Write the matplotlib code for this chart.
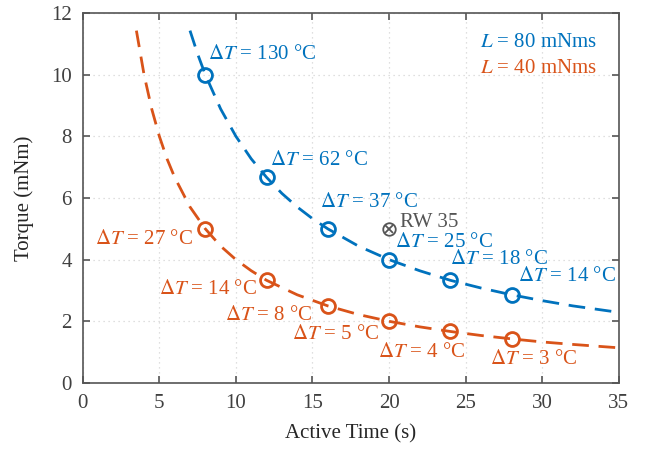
import matplotlib
matplotlib.use("Agg")
import matplotlib.pyplot as plt

BLUE = "#0072BD"
ORANGE = "#D95319"
GRAY = "#555555"

# dashed trend curves
t_80 = [7.0, 7.5, 8, 9, 10, 11, 12, 13, 14, 15, 16, 18, 20, 22, 24, 26, 28, 30, 32, 35]
tq_80 = [11.43, 10.67, 10.0, 8.89, 8.0, 7.27, 6.67, 6.15, 5.71, 5.33, 5.0, 4.44, 4.0,
         3.64, 3.33, 3.08, 2.86, 2.67, 2.5, 2.29]
t_40 = [3.5, 4, 4.5, 5, 5.5, 6, 7, 8, 9, 10, 11, 12, 14, 16, 18, 20, 22, 24, 26, 28, 30, 32, 35]
tq_40 = [11.43, 10.0, 8.89, 8.0, 7.27, 6.67, 5.71, 5.0, 4.44, 4.0, 3.64, 3.33, 2.86, 2.5,
         2.22, 2.0, 1.82, 1.67, 1.54, 1.43, 1.33, 1.25, 1.14]

# design points
pt_time = [8, 12, 16, 20, 24, 28]
pt_80 = [10.0, 6.67, 5.0, 4.0, 3.33, 2.86]
pt_40 = [5.0, 3.33, 2.5, 2.0, 1.67, 1.43]
dT_80 = [130, 62, 37, 25, 18, 14]
dT_40 = [27, 14, 8, 5, 4, 3]

# label anchor positions (data coords)
lab_80 = [(8.2, 10.67), (12.2, 7.23), (15.5, 5.84), (20.4, 4.57), (24.0, 3.99), (28.4, 3.44)]
lab_40 = [(7.2, 4.64), (11.4, 3.02), (15.0, 2.2), (19.4, 1.56), (19.3, 1.0), (26.6, 0.75)]
ha_40 = ["right", "right", "right", "right", "left", "left"]

rw_time, rw_torque = 20, 5.0

plt.rcParams.update({
    "font.family": "Liberation Serif",
    "mathtext.fontset": "stix",
    "font.size": 15,
})

fig = plt.figure(figsize=(6.52, 4.5), dpi=100)
ax = fig.add_axes([0.127, 0.149, 0.822, 0.822])

ax.plot(t_80, tq_80, color=BLUE, linestyle=(0, (6, 3.5)), linewidth=2.0)
ax.plot(t_40, tq_40, color=ORANGE, linestyle=(0, (6, 3.5)), linewidth=2.0)
ax.plot(pt_time, pt_80, "o", color=BLUE, mfc="none", mew=2.0, ms=10)
ax.plot(pt_time, pt_40, "o", color=ORANGE, mfc="none", mew=2.0, ms=10)

for (x, y), d in zip(lab_80, dT_80):
    ax.text(x, y, rf"$\Delta T$ = {d} °C", color=BLUE, ha="left", va="center")
for (x, y), d, ha in zip(lab_40, dT_40, ha_40):
    ax.text(x, y, rf"$\Delta T$ = {d} °C", color=ORANGE, ha=ha, va="center")

ax.plot(rw_time, rw_torque, marker="o", color=GRAY, mfc="none", ms=9, mew=1.3)
ax.plot(rw_time, rw_torque, marker="x", color=GRAY, ms=6, mew=1.3)
ax.text(20.7, 5.22, "RW 35", color=GRAY, ha="left", va="center")

ax.text(33.6, 11.06, r"$L$ = 80 mNms", color=BLUE, ha="right", va="center")
ax.text(33.6, 10.2, r"$L$ = 40 mNms", color=ORANGE, ha="right", va="center")

ax.set_xlim(0, 35)
ax.set_ylim(0, 12)
ax.set_xticks(range(0, 36, 5))
ax.set_yticks(range(0, 13, 2))
ax.set_xlabel("Active Time (s)", color="#262626", labelpad=8)
ax.set_ylabel("Torque (mNm)", color="#262626", labelpad=12)
ax.grid(True, linestyle=(0, (1, 3)), color="#d5d5d5", linewidth=0.9)
ax.tick_params(direction="in", top=True, right=True, length=5, width=1.2, colors="#555555",
               labelcolor="#404040", labelsize=15, pad=8)
for sp in ax.spines.values():
    sp.set_color("#555555")
    sp.set_linewidth(1.2)

fig.savefig("out.png", dpi=100)
